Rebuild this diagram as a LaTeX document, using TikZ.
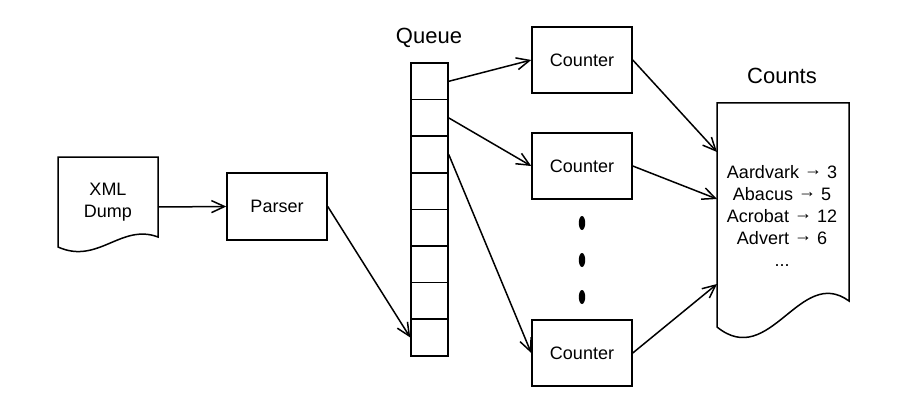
\documentclass[tikz,border=0pt]{standalone}
\usepackage{fontspec}
\setmainfont{Liberation Sans}
\usetikzlibrary{arrows.meta,calc}
\newcommand{\myarr}{\raisebox{0.18em}{→}}
\begin{document}
\begin{tikzpicture}[x=1pt,y=-1pt,line width=1.5pt,
  box/.style={draw,minimum width=100pt,minimum height=66pt,inner sep=0pt,font=\fontsize{18}{22}\selectfont},
  cell/.style={draw,minimum width=37pt,minimum height=36.6pt,inner sep=0pt},
  lbl/.style={font=\fontsize{22}{26}\selectfont,inner sep=0pt},
  txt/.style={font=\fontsize{18}{22}\selectfont,align=center,inner sep=0pt},
  conn/.style={-{Straight Barb[length=13pt,width=12pt,line width=1.5pt]}}]
\useasboundingbox (0,0) rectangle (915,417);
% XML Dump document
\draw (158,237) .. controls (121,223) and (98,265) .. (58,247) -- (58,157) -- (158,157) -- cycle;
\node[txt] (xml) at (108,202) {XML\\Dump};
\coordinate (xmlout) at (158,207);
% Parser
\node[box,minimum height=67pt] (parser) at (277,206.5) {Parser};
% Queue
\foreach \i in {1,...,8}{
  \node[cell] (q\i) at (429.5,{63+18.3+36.6*(\i-1)}) {};
}
\node[lbl] (queue) at (429,38) {Queue};
% Counters
\node[box] (c1) at (582,60) {Counter};
\node[box] (c2) at (582,166) {Counter};
\node[box] (c3) at (582,353) {Counter};
\foreach \y in {223,260,297}{
  \fill (582,\y) ellipse [x radius=3.2pt,y radius=7pt];
}
% Counts document
\draw (849,301) .. controls (800,265) and (770,370) .. (717,327) -- (717,103) -- (849,103) -- cycle;
\node[lbl] (countslbl) at (782,76) {Counts};
\node[txt] (counts) at (782,216) {Aardvark \myarr{} 3\\Abacus \myarr{} 5\\Acrobat \myarr{} 12\\Advert \myarr{} 6\\...};
\coordinate (in1) at (717,152);
\coordinate (in2) at (717,199);
\coordinate (in3) at (717,284);
% connectors
\draw[conn] (xmlout) -- (parser.west);
\draw[conn] (parser.east) -- (q8.west);
\draw[conn] (q1.east) -- (c1.west);
\draw[conn] (q2.east) -- (c2.west);
\draw[conn] (q3.east) -- (c3.west);
\draw[conn] (c1.east) -- (in1);
\draw[conn] (c2.east) -- (in2);
\draw[conn] (c3.east) -- (in3);
\end{tikzpicture}
\end{document}
